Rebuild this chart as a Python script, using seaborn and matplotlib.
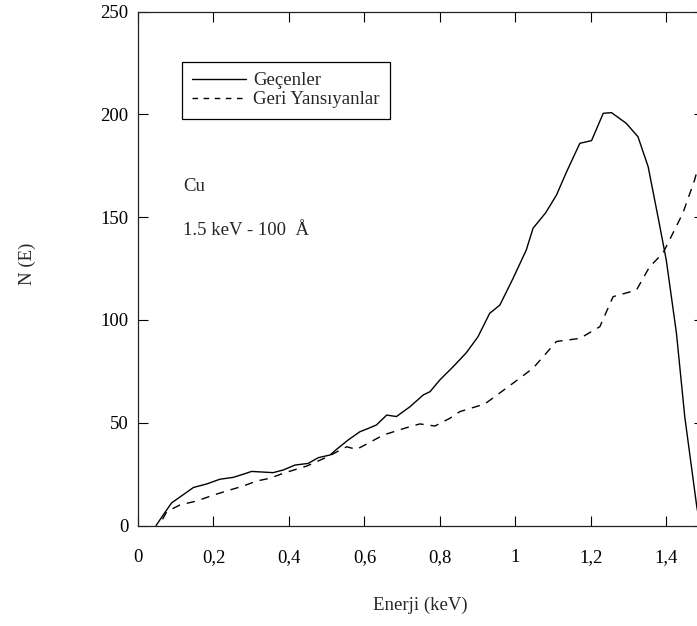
import matplotlib
matplotlib.use("Agg")
import matplotlib.pyplot as plt
import seaborn as sns
import pandas as pd

# Geçenler (transmitted) curve
gecen_energy = [0.048, 0.07, 0.089, 0.12, 0.147, 0.182, 0.217, 0.252, 0.28, 0.301, 0.33, 0.358,
                0.385, 0.416, 0.451, 0.478, 0.509, 0.526, 0.557, 0.588, 0.61, 0.632, 0.659, 0.685,
                0.721, 0.756, 0.774, 0.8, 0.835, 0.87, 0.901, 0.932, 0.959, 0.994, 1.029, 1.047,
                1.08, 1.109, 1.136, 1.171, 1.202, 1.233, 1.255, 1.294, 1.325, 1.352, 1.378, 1.4,
                1.427, 1.449, 1.481, 1.49]
gecen_counts = [0, 6, 11, 15, 18.5, 20.2, 22.5, 23.4, 25, 26.3, 26, 25.7,
                27, 29.4, 30.2, 33, 34.3, 37, 41.6, 45.6, 47.2, 48.9, 53.7, 53,
                57.8, 63.5, 65.1, 70.8, 77.2, 84, 91.8, 103.2, 107.2, 120.2, 134, 144.6,
                152, 160.7, 172.1, 185.9, 187.2, 200.5, 200.8, 195.6, 189.1, 174.5, 150.2, 129.1,
                93.5, 52.9, 9, 0]

# Geri Yansıyanlar (backscattered) curve
geri_energy = [0.065, 0.076, 0.111, 0.155, 0.2, 0.244, 0.279, 0.314, 0.35, 0.385, 0.447, 0.5,
               0.553, 0.579, 0.61, 0.65, 0.712, 0.747, 0.787, 0.826, 0.853, 0.919, 0.985, 1.047,
               1.109, 1.171, 1.224, 1.259, 1.321, 1.356, 1.391, 1.444, 1.475, 1.49]
geri_counts = [3, 6.7, 10, 11.9, 14.8, 17.3, 19.2, 21.6, 23, 25.4, 28.9, 33.2,
               38.3, 37, 40, 44, 47.6, 49.4, 48.4, 52.1, 55.4, 59.1, 68, 76.5,
               89.5, 91, 96.7, 111.3, 114.5, 125.9, 132.4, 151.9, 168, 178]

series_labels = ["Geçenler", "Geri Yansıyanlar"]
x_ticks = [0, 0.2, 0.4, 0.6, 0.8, 1.0, 1.2, 1.4]
x_tick_labels = ["0", "0,2", "0,4", "0,6", "0,8", "1", "1,2", "1,4"]
y_ticks = [0, 50, 100, 150, 200, 250]
y_tick_labels = ["0", "50", "100", "150", "200", "250"]

sns.set_style("ticks")
plt.rcParams["font.family"] = ["Liberation Serif", "DejaVu Serif"]
plt.rcParams["font.size"] = 13.5

fig = plt.figure(figsize=(6.97, 6.26), dpi=100)
W, H = 697, 626
left_px, right_px, top_px, bottom_px = 138, 704, 11.5, 525.5
ax = fig.add_axes([left_px / W, (H - bottom_px) / H,
                   (right_px - left_px) / W, (bottom_px - top_px) / H])

df1 = pd.DataFrame({"E": gecen_energy, "N": gecen_counts})
df2 = pd.DataFrame({"E": geri_energy, "N": geri_counts})
sns.lineplot(data=df1, x="E", y="N", ax=ax, color="black", linewidth=1.0,
             sort=False, label=series_labels[0])
sns.lineplot(data=df2, x="E", y="N", ax=ax, color="black", linewidth=1.0,
             sort=False, label=series_labels[1], dashes=False)
ax.lines[1].set_linestyle((0, (6, 5)))

ax.set_xlim(0, 1.5)
ax.set_ylim(0, 250)
ax.set_xticks(x_ticks)
ax.set_xticklabels(x_tick_labels)
ax.set_yticks(y_ticks)
ax.set_yticklabels(y_tick_labels)
ax.tick_params(direction="in", length=7, width=0.8, top=True, right=True,
               labelsize=13.5, colors="black")
ax.tick_params(axis="x", pad=17)
ax.tick_params(axis="y", pad=7)
for s in ax.spines.values():
    s.set_visible(True)
    s.set_linewidth(0.9)
    s.set_color("#222222")

ax.set_xlabel("Enerji (keV)", fontsize=13.5)
ax.xaxis.set_label_coords((420 - left_px) / (right_px - left_px),
                          -(605 - bottom_px) / (bottom_px - top_px))
ax.xaxis.label.set_va("center")
ax.set_ylabel("N (E)", fontsize=13.5)
ax.yaxis.set_label_coords(-(left_px - 27) / (right_px - left_px), 0.51)
ax.yaxis.label.set_va("center")

ax.text(0.119, 165, "Cu", fontsize=13.5, va="center", ha="left")
ax.text(0.119, 143.7, "1.5 keV - 100  Å", fontsize=13.5, va="center", ha="left")

leg = ax.legend(loc="upper left", bbox_to_anchor=(0.077, 0.902), borderaxespad=0,
                frameon=True, fancybox=False, edgecolor="black", framealpha=1,
                fontsize=13.5, handlelength=2.9, handletextpad=0.35,
                labelspacing=0.1, borderpad=0.55)
leg.get_frame().set_linewidth(0.9)
leg.legend_handles[1].set_linestyle((0, (4, 4)))

fig.savefig("out.png", dpi=100)
